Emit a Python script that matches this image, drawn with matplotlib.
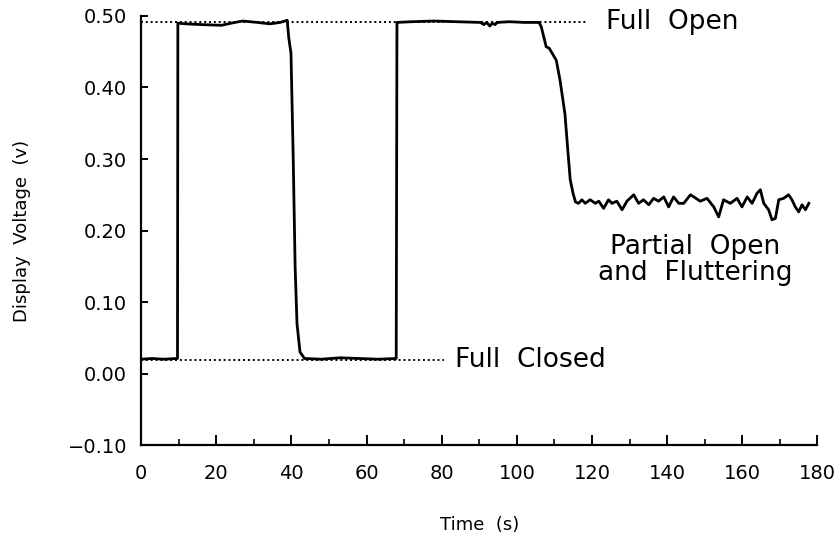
import matplotlib
matplotlib.use("Agg")
import matplotlib.pyplot as plt

# Trace (time in s, voltage in v)
TIME = [0, 3, 6, 9.5, 9.7, 9.8,
        12, 16, 21.4, 24, 27, 31, 34.3, 37, 38.9,
        39.3, 39.9, 40.5, 41.0, 41.5, 42.3, 43.5,
        48, 53, 58, 63, 67.9, 68.1,
        72, 78, 84, 90.3, 91.2, 92, 92.8, 93.5, 94.2, 94.8, 98, 102, 105.9,
        106.5, 107.2, 107.8, 108.6, 109.5, 110.5, 111.5, 112.8, 113.6, 114.2,
        115.0, 115.6,
        116.4, 117.3, 118.2, 119.5, 120.9, 121.8, 123.1, 124.4, 125.3, 126.6,
        128.0, 129.3, 131.1, 132.4, 133.7, 135.1, 136.4, 137.7, 139.1, 140.4,
        141.7, 143.1, 144.4, 146.2, 148.8, 150.6, 152.4, 153.7, 155.0, 156.8,
        158.6, 159.9, 161.3, 162.6, 163.9, 164.8, 165.7, 167.0, 167.9, 168.8,
        169.7, 171.0, 172.3, 173.2, 174.1, 175.0, 175.9, 176.8, 177.7]
VOLTS = [0.020, 0.021, 0.020, 0.021, 0.021, 0.490,
         0.489, 0.488, 0.487, 0.490, 0.493, 0.491, 0.489, 0.491, 0.494,
         0.470, 0.448, 0.300, 0.150, 0.070, 0.030, 0.021,
         0.020, 0.022, 0.021, 0.020, 0.021, 0.491,
         0.492, 0.493, 0.492, 0.491, 0.488, 0.491, 0.486, 0.490, 0.488, 0.491,
         0.492, 0.491, 0.491,
         0.485, 0.470, 0.457, 0.455, 0.447, 0.438, 0.410, 0.363, 0.310, 0.271,
         0.251, 0.240,
         0.238, 0.243, 0.238, 0.243, 0.238, 0.241, 0.231, 0.243, 0.238, 0.241,
         0.229, 0.241, 0.250, 0.238, 0.243, 0.236, 0.245, 0.241, 0.247, 0.233,
         0.247, 0.238, 0.238, 0.250, 0.241, 0.245, 0.233, 0.219, 0.243, 0.238,
         0.245, 0.233, 0.247, 0.238, 0.252, 0.257, 0.238, 0.229, 0.215, 0.217,
         0.243, 0.245, 0.250, 0.243, 0.233, 0.226, 0.236, 0.229, 0.238]

# Reference levels
OPEN_LEVEL = 0.491
CLOSED_LEVEL = 0.019
OPEN_END = 118.7
CLOSED_END = 80.5

fig = plt.figure(figsize=(8.4, 5.35), dpi=100)
ax = fig.add_axes([0.1679, 0.1682, 0.9732 - 0.1679, 0.9701 - 0.1682])

ax.plot(TIME, VOLTS, color="black", linewidth=2.0, solid_joinstyle="round")
ax.plot([0, OPEN_END], [OPEN_LEVEL, OPEN_LEVEL], color="black",
        linewidth=1.4, linestyle=(0, (1, 1.5)))
ax.plot([0, CLOSED_END], [CLOSED_LEVEL, CLOSED_LEVEL], color="black",
        linewidth=1.4, linestyle=(0, (1, 1.5)))

# Annotations
ax.text(123.8, OPEN_LEVEL, "Full  Open", fontsize=19, va="center", ha="left")
ax.text(83.6, CLOSED_LEVEL, "Full  Closed", fontsize=19, va="center", ha="left")
ax.text(147.5, 0.177, "Partial  Open", fontsize=19, va="center", ha="center")
ax.text(147.5, 0.1406, "and  Fluttering", fontsize=19, va="center", ha="center")

# Plot formatting
ax.set_xlim(0, 180)
ax.set_ylim(-0.10, 0.50)
ax.set_xticks(range(0, 181, 20))
ax.set_xticks(range(10, 180, 20), minor=True)
ax.set_yticks([-0.10, 0.0, 0.10, 0.20, 0.30, 0.40, 0.50])
ax.set_yticklabels(["\u22120.10", "0.00", "0.10", "0.20", "0.30", "0.40", "0.50"])
ax.tick_params(axis="x", which="major", direction="in", length=7, width=1.4,
               pad=14, labelsize=14)
ax.tick_params(axis="x", which="minor", direction="in", length=4.5, width=1.2)
ax.tick_params(axis="y", which="major", direction="in", length=5, width=1.4,
               pad=10, labelsize=14)
for side in ["top", "right"]:
    ax.spines[side].set_visible(False)
for side in ["left", "bottom"]:
    ax.spines[side].set_linewidth(1.6)

ax.set_xlabel("Time  (s)", fontsize=13)
ax.set_ylabel("Display  Voltage  (v)", fontsize=13)
ax.xaxis.set_label_coords(0.5, -0.165)
ax.yaxis.set_label_coords(-0.163, 0.5)

fig.savefig("out.png", dpi=100)
